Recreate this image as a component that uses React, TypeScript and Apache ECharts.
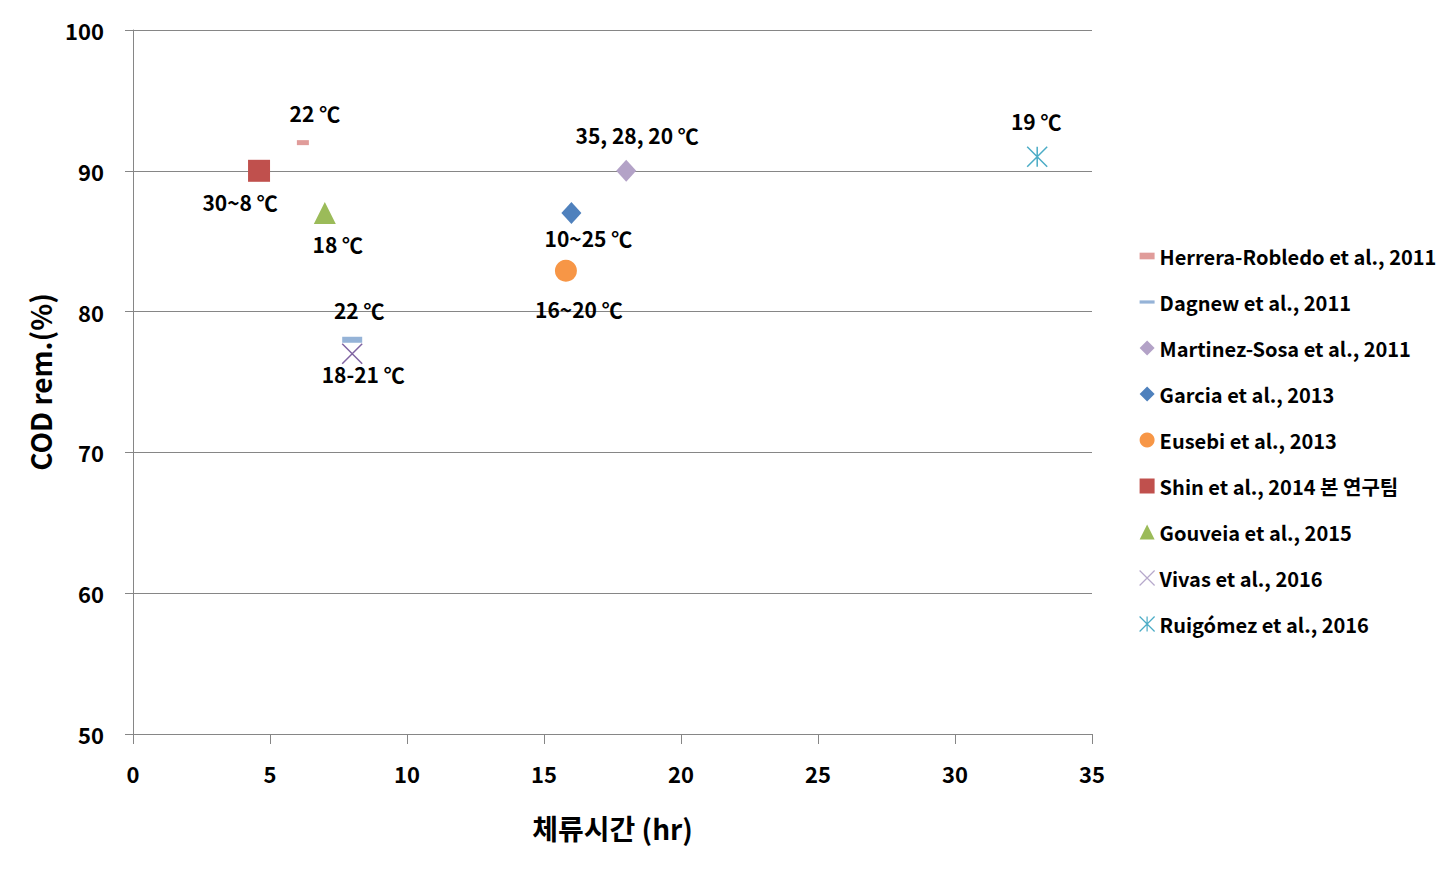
import React, { useEffect, useRef } from "react";
import * as echarts from "echarts";

const seriesNames = [
  "Herrera-Robledo et al., 2011",
  "Dagnew et al., 2011",
  "Martinez-Sosa et al., 2011",
  "Garcia et al., 2013",
  "Eusebi et al., 2013",
  "Shin et al., 2014 본 연구팀",
  "Gouveia et al., 2015",
  "Vivas et al., 2016",
  "Ruigómez et al., 2016",
];
const hrtValues = [6.2, 8, 18, 16, 15.8, 4.6, 7, 8, 33];
const codValues = [92, 78, 90, 87, 82.9, 90, 87, 77, 91];
const tempLabels = ["22 ℃", "22 ℃", "35, 28, 20 ℃", "10~25 ℃", "16~20 ℃", "30~8 ℃", "18 ℃", "18-21 ℃", "19 ℃"];
const xTicks = [0, 5, 10, 15, 20, 25, 30, 35];
const yTicks = [50, 60, 70, 80, 90, 100];

const colors = ["#E09C9A", "#95B3D7", "#B3A2C7", "#4F81BD", "#F79646", "#C0504D", "#9BBB59", "#8064A2", "#4BACC6"];
const symbols = [
  "rect",
  "rect",
  "diamond",
  "diamond",
  "circle",
  "rect",
  "triangle",
  "path://M0,0L10,10M10,0L0,10",
  "path://M0,0L10,10M10,0L0,10M5,0L5,10",
];
const symbolSizes: any[] = [[12, 5], [20, 6], [20, 22], [20, 22], [22, 22], [22, 22], [22, 22], [20, 20], [20, 20]];
const labelOffsets = [[12, -30], [7, -30], [11, -36], [17, 25], [13, 38], [-19, 31], [13, 31], [11, 20], [-1, -36]];
const legendIcons = [
  "path://M0,5h9v4h-9z",
  "path://M0,0h14v3h-14z",
  "diamond",
  "diamond",
  "circle",
  "rect",
  "triangle",
  "path://M0,0L10,10M10,0L0,10",
  "path://M0,0L10,10M10,0L0,10M5,0L5,10",
];

const FONT = "'Noto Sans CJK KR', 'Noto Sans', sans-serif";

export default function App() {
  const ref = useRef<HTMLDivElement>(null);
  useEffect(() => {
    if (!ref.current) return;
    const chart = echarts.init(ref.current, null, { renderer: "svg" });
    const isStroke = (i: number) => i >= 7;
    chart.setOption({
      animation: false,
      backgroundColor: "#ffffff",
      grid: { left: 133, top: 30, right: 358, bottom: 148 },
      legend: {
        orient: "vertical",
        left: 1134,
        top: 240,
        itemWidth: 15,
        itemHeight: 15,
        itemGap: 24,
        textStyle: { fontFamily: FONT, fontSize: 20, fontWeight: "bold", color: "#000", lineHeight: 22 },
        data: seriesNames.map((n, i) => ({
          name: n,
          icon: legendIcons[i],
          itemStyle: isStroke(i)
            ? { color: "transparent", borderColor: i === 7 ? "#B7A9CC" : colors[i], borderWidth: 1.2, opacity: 1 }
            : { color: colors[i], opacity: 1 },
        })),
      },
      xAxis: {
        type: "value",
        min: xTicks[0],
        max: xTicks[xTicks.length - 1],
        interval: 5,
        name: "체류시간 (hr)",
        nameLocation: "middle",
        nameGap: 80,
        nameTextStyle: { fontFamily: FONT, fontSize: 28, fontWeight: "bold", color: "#000" },
        axisLine: { show: true, lineStyle: { color: "#868686", width: 1 } },
        axisTick: { show: true, length: 10, lineStyle: { color: "#868686" } },
        axisLabel: { margin: 28, fontFamily: FONT, fontSize: 22, fontWeight: "bold", color: "#000" },
        splitLine: { show: false },
      },
      yAxis: {
        type: "value",
        min: yTicks[0],
        max: yTicks[yTicks.length - 1],
        interval: 10,
        name: "COD rem.(%)",
        nameLocation: "middle",
        nameGap: 79,
        nameRotate: 90,
        nameTextStyle: { fontFamily: FONT, fontSize: 28, fontWeight: "bold", color: "#000" },
        axisLine: { show: true, lineStyle: { color: "#868686", width: 1 } },
        axisTick: { show: true, length: 8, lineStyle: { color: "#868686" } },
        axisLabel: { margin: 29, fontFamily: FONT, fontSize: 22, fontWeight: "bold", color: "#000" },
        splitLine: { show: true, lineStyle: { color: "#868686", width: 1 } },
      },
      series: seriesNames.map((n, i) => ({
        name: n,
        type: "scatter",
        symbol: symbols[i],
        symbolSize: symbolSizes[i],
        itemStyle: isStroke(i)
          ? { color: "transparent", borderColor: colors[i], borderWidth: 1.5, opacity: 1 }
          : { color: colors[i], opacity: 1 },
        label: {
          show: true,
          position: "inside",
          offset: labelOffsets[i],
          formatter: tempLabels[i],
          fontFamily: FONT,
          fontSize: 21,
          fontWeight: "bold",
          color: "#000",
        },
        emphasis: { disabled: true },
        data: [[hrtValues[i], codValues[i]]],
      })),
    });
    return () => chart.dispose();
  }, []);
  return <div ref={ref} style={{ position: "absolute", left: 0, top: 0, width: 1450, height: 882 }} />;
}
